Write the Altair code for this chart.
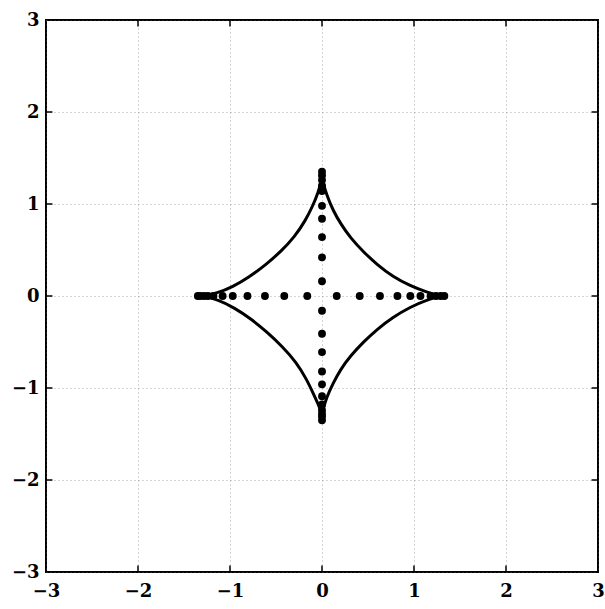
import altair as alt
import pandas as pd

# Tick values of both axes
tick_values = [-3, -2, -1, 0, 1, 2, 3]
inner_ticks = [-2, -1, 0, 1, 2]

# Curve branches
ur_x = [0.00, 0.01, 0.05, 0.12, 0.20, 0.31, 0.45, 0.60, 0.77, 0.96, 1.14, 1.30]
ur_y = [1.31, 1.24, 1.10, 0.93, 0.79, 0.63, 0.48, 0.34, 0.21, 0.11, 0.04, 0.00]

lr_x = [1.30, 1.14, 0.96, 0.77, 0.60, 0.45, 0.31, 0.20, 0.12, 0.05, 0.01, 0.00]
lr_y = [0.00, -0.04, -0.12, -0.23, -0.36, -0.50, -0.65, -0.80, -0.95, -1.10, -1.24, -1.31]

ul_x = [-1.30, -1.14, -0.97, -0.80, -0.61, -0.44, -0.30, -0.18, -0.10, -0.04, -0.01, 0.00]
ul_y = [0.00, 0.03, 0.10, 0.20, 0.34, 0.49, 0.64, 0.82, 0.98, 1.13, 1.24, 1.31]

ll_x = [-1.30, -1.13, -0.95, -0.77, -0.60, -0.43, -0.28, -0.17, -0.09, -0.03, -0.01, 0.00]
ll_y = [0.00, -0.04, -0.13, -0.25, -0.39, -0.55, -0.72, -0.90, -1.07, -1.20, -1.26, -1.31]

# Star markers along the axes
star_row_x = [-1.35, -1.32, -1.28, -1.24, -1.18, -1.08, -0.97, -0.81, -0.62, -0.41, -0.16,
              0.16, 0.41, 0.63, 0.82, 0.96, 1.07, 1.18, 1.24, 1.29, 1.33]
star_col_y = [1.35, 1.31, 1.26, 1.20, 1.14, 0.98, 0.84, 0.64, 0.42, 0.16, -0.16,
              -0.41, -0.61, -0.82, -0.96, -1.09, -1.18, -1.24, -1.28, -1.31, -1.35]

rows = []
for name, xs, ys in [("ur", ur_x, ur_y), ("lr", lr_x, lr_y), ("ul", ul_x, ul_y), ("ll", ll_x, ll_y)]:
    for i, (x, y) in enumerate(zip(xs, ys)):
        rows.append({"branch": name, "i": i, "x": x, "y": y})
curve_df = pd.DataFrame(rows)

stars = [{"x": x, "y": 0.0} for x in star_row_x] + [{"x": 0.0, "y": y} for y in star_col_y]
stars_df = pd.DataFrame(stars)

tick_len = 0.07
xt = []
for v in inner_ticks:
    xt.append({"x": v, "y": 3, "y2": 3 - tick_len})
    xt.append({"x": v, "y": -3, "y2": -3 + tick_len})
xt_df = pd.DataFrame(xt)
yt = []
for v in inner_ticks:
    yt.append({"y": v, "x": -3, "x2": -3 + tick_len})
    yt.append({"y": v, "x": 3, "x2": 3 - tick_len})
yt_df = pd.DataFrame(yt)

scale = alt.Scale(domain=[-3, 3], nice=False, zero=False)

label_font = "DejaVu Serif"
x_axis = alt.Axis(values=tick_values, format="d", title=None, grid=True, ticks=False, domain=False,
                  labelFont=label_font, labelFontWeight="bold", labelFontSize=18,
                  labelColor="black", labelPadding=10, labelFlush=False, labelOverlap=False,
                  gridColor="#666666", gridDash=[1, 3], gridWidth=1, gridOpacity=0.55)
y_axis = alt.Axis(values=tick_values, format="d", title=None, grid=True, ticks=False, domain=False,
                  labelFont=label_font, labelFontWeight="bold", labelFontSize=18,
                  labelColor="black", labelPadding=7, labelFlush=False, labelOverlap=False,
                  gridColor="#666666", gridDash=[1, 3], gridWidth=1, gridOpacity=0.55)

curve = alt.Chart(curve_df).mark_line(color="black", strokeWidth=3,
                                      interpolate="basis").encode(
    x=alt.X("x:Q", scale=scale, axis=x_axis),
    y=alt.Y("y:Q", scale=scale, axis=y_axis),
    detail="branch:N",
    order="i:Q",
)

star_marks = alt.Chart(stars_df).mark_point(shape="circle", filled=True, color="black",
                                            size=62, opacity=1).encode(
    x=alt.X("x:Q", scale=scale),
    y=alt.Y("y:Q", scale=scale),
)

xticks = alt.Chart(xt_df).mark_rule(color="black", strokeWidth=1.5).encode(
    x=alt.X("x:Q", scale=scale), y=alt.Y("y:Q", scale=scale), y2="y2:Q")
yticks = alt.Chart(yt_df).mark_rule(color="black", strokeWidth=1.5).encode(
    y=alt.Y("y:Q", scale=scale), x=alt.X("x:Q", scale=scale), x2="x2:Q")

chart = alt.layer(curve, star_marks, xticks, yticks).properties(
    width=552, height=552,
    autosize=alt.AutoSizeParams(type="none"),
    padding={"left": 46, "top": 20, "right": 7, "bottom": 37},
    background="white",
).configure_view(stroke="black", strokeWidth=2)

chart.save("out.html", embed_options={"renderer": "svg", "actions": False})
